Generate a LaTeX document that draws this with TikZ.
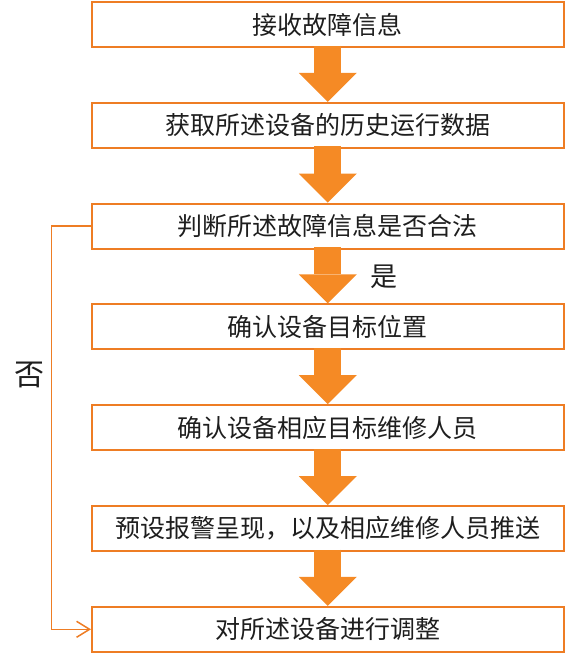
\documentclass[tikz,border=0pt]{standalone}
\usepackage{fontspec}
\setmainfont{Noto Sans CJK SC}
\usepackage{xcolor}
\usetikzlibrary{arrows.meta,positioning,calc}
\definecolor{boxorange}{HTML}{EE7D24}
\definecolor{arrorange}{HTML}{F58A25}
\definecolor{txtgray}{HTML}{1E1E1E}

\begin{document}
\begin{tikzpicture}[node distance=53.8pt,
  stepbox/.style={draw=boxorange, line width=2pt, rectangle,
    minimum width=471.5pt, minimum height=45pt, inner sep=0pt,
    align=center, text=txtgray, font=\fontsize{25pt}{30pt}\selectfont},
  blockarr/.style={draw=arrorange, line width=27pt, shorten <=-2.5pt,
    -{Triangle[length=29pt, width=58pt, line width=0pt]}},
  sidearr/.style={draw=boxorange, line width=1.5pt,
    -{Straight Barb[length=13pt, width=16pt, line width=1.5pt]}},
  lbl/.style={inner sep=0pt, text=txtgray}]
\useasboundingbox (0,0) rectangle (566pt,-656pt);
\node[stepbox] (recv) at (327.75pt,-24.5pt) {接收故障信息};
\node[stepbox, below=of recv] (fetch) {获取所述设备的历史运行数据};
\node[stepbox, below=of fetch] (judge) {判断所述故障信息是否合法};
\node[stepbox, below=of judge] (locate) {确认设备目标位置};
\node[stepbox, below=of locate] (staff) {确认设备相应目标维修人员};
\node[stepbox, below=of staff] (push) {预设报警呈现，以及相应维修人员推送};
\node[stepbox, below=of push] (adjust) {对所述设备进行调整};
\draw[blockarr] (recv.south) -- (fetch.north);
\draw[blockarr] (fetch.south) -- (judge.north);
\draw[blockarr] (judge.south) -- (locate.north)
  node[midway, lbl, right=29pt, font=\fontsize{27pt}{32pt}\selectfont] {是};
\draw[blockarr] (locate.south) -- (staff.north);
\draw[blockarr] (staff.south) -- (push.north);
\draw[blockarr] (push.south) -- (adjust.north);
\draw[sidearr] (judge.west) -- ++(-39.5pt,0) |- (adjust.west)
  node[pos=0.184, lbl, left=6pt, font=\fontsize{30pt}{34pt}\selectfont] {否};
\end{tikzpicture}
\end{document}
